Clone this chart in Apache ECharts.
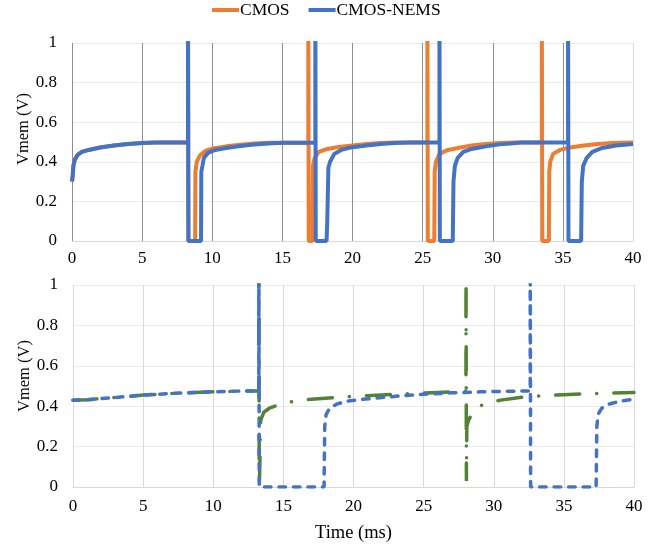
<!DOCTYPE html>
<html lang="en">
<head>
    <meta charset="UTF-8">
    <title>Vmem</title>
    <script src="https://cdn.jsdelivr.net/npm/echarts@6/dist/echarts.min.js"></script>
    <style>
        html, body {
            margin: 0;
            padding: 0;
            background: #fff;
        }

        #chart {
            width: 660px;
            height: 547px;
        }
    </style>
</head>
<body>
<div id="chart"></div>
<script>
    // top panel: CMOS vs CMOS-NEMS, [time ms, V]
    var cmosTop = [
        [0, 0.3], [0.05, 0.33], [0.1, 0.38], [0.2, 0.41], [0.4, 0.435], [0.7, 0.45], [1.2, 0.46], [2, 0.472],
        [3, 0.482], [4, 0.49], [5, 0.495], [6, 0.497], [8.27, 0.497], [8.27, 1.2], [8.3, 0], [8.78, 0],
        [8.8, 0.35], [8.9, 0.4], [9.1, 0.43], [9.5, 0.455], [10, 0.467], [11, 0.478], [12, 0.486], [13, 0.492],
        [14, 0.496], [16.85, 0.497], [16.85, 1.2], [16.88, 0], [17.15, 0], [17.18, 0.38], [17.3, 0.42],
        [17.6, 0.45], [18.2, 0.465], [19, 0.475], [20, 0.483], [21, 0.49], [22, 0.495], [23, 0.497],
        [25.34, 0.497], [25.34, 1.2], [25.37, 0], [25.83, 0], [25.86, 0.35], [25.95, 0.4], [26.2, 0.44],
        [26.8, 0.46], [27.7, 0.472], [28.5, 0.482], [29.5, 0.49], [30.5, 0.495], [31.5, 0.497], [33.5, 0.497],
        [33.5, 1.2], [33.53, 0], [34.0, 0], [34.03, 0.35], [34.1, 0.4], [34.3, 0.44], [34.8, 0.46],
        [35.5, 0.472], [36.5, 0.482], [37.5, 0.49], [38.5, 0.495], [40, 0.497]
    ];
    var nemsTop = [
        [0, 0.3], [0.05, 0.33], [0.1, 0.38], [0.2, 0.41], [0.4, 0.435], [0.7, 0.45], [1.2, 0.46], [2, 0.472],
        [3, 0.482], [4, 0.49], [5, 0.495], [6, 0.497], [8.27, 0.497], [8.27, 1.2], [8.3, 0], [9.2, 0],
        [9.22, 0.35], [9.3, 0.38], [9.4, 0.42], [9.7, 0.445], [10.2, 0.46], [11, 0.47], [12, 0.48], [13, 0.487],
        [14, 0.493], [15, 0.496], [17.35, 0.497], [17.35, 1.2], [17.38, 0], [18.15, 0], [18.2, 0.1],
        [18.28, 0.37], [18.4, 0.4], [18.7, 0.44], [19.2, 0.46], [20, 0.474], [21, 0.482], [22, 0.49],
        [23, 0.495], [24, 0.497], [26.2, 0.497], [26.2, 1.2], [26.23, 0], [27.15, 0], [27.2, 0.3],
        [27.3, 0.38], [27.5, 0.42], [27.9, 0.45], [28.5, 0.465], [29.5, 0.478], [30.5, 0.488], [31.5, 0.494],
        [32, 0.497], [35.37, 0.497], [35.37, 1.2], [35.4, 0], [36.3, 0], [36.35, 0.3], [36.45, 0.38],
        [36.7, 0.42], [37.1, 0.45], [37.8, 0.47], [38.8, 0.482], [40, 0.49]
    ];

    // bottom panel: dash-dot (green) and dashed (blue)
    var greenBottom = [
        [0, 0.43], [1, 0.432], [2, 0.438], [3, 0.443], [4, 0.449], [5, 0.455], [6, 0.459], [7, 0.463],
        [8, 0.466], [9, 0.469], [10, 0.471], [11, 0.473], [12, 0.475], [13.25, 0.476], [13.25, 1.2],
        [13.28, 0], [13.32, 0.1], [13.38, 0.33], [13.6, 0.37], [14, 0.39], [14.8, 0.41], [15.8, 0.425],
        [17, 0.435], [18.5, 0.442], [20, 0.449], [22, 0.456], [24, 0.462], [26, 0.468], [28.02, 0.474],
        [28.02, 1.2], [28.05, 0.03], [28.08, 0.3], [28.2, 0.33], [28.5, 0.37], [29, 0.4], [29.5, 0.415],
        [30.5, 0.43], [32, 0.444], [33.5, 0.452], [35, 0.457], [37, 0.462], [40, 0.468]
    ];
    var blueBottom = [
        [0, 0.43], [1, 0.432], [2, 0.438], [3, 0.443], [4, 0.449], [5, 0.455], [6, 0.459], [7, 0.463],
        [8, 0.466], [9, 0.469], [10, 0.471], [11, 0.473], [12, 0.475], [13.25, 0.476], [13.25, 1.2],
        [13.28, 0], [17.9, 0], [17.95, 0.3], [18.05, 0.36], [18.3, 0.39], [18.8, 0.41], [19.5, 0.425],
        [20.5, 0.433], [22, 0.443], [23.5, 0.452], [25, 0.459], [27, 0.466], [29, 0.471], [31, 0.474],
        [32.6, 0.476], [32.6, 1.2], [32.63, 0], [37.3, 0], [37.35, 0.3], [37.45, 0.36], [37.7, 0.39],
        [38.2, 0.41], [39, 0.425], [40, 0.435]
    ];
    var legendNames = ['CMOS', 'CMOS-NEMS'];

    var font = 'Liberation Serif';
    var dark = '#8f8f8f', light = '#d9d9d9';

    function xAxis(idx, vGrid, margin, withName) {
        return {
            type: 'value', gridIndex: idx, min: 0, max: 40, interval: 5,
            axisLine: {lineStyle: {color: light}},
            axisTick: {show: false},
            axisLabel: {color: '#000', fontFamily: font, fontSize: 17, margin: margin},
            splitLine: {lineStyle: {color: vGrid, width: 1}},
            name: withName ? 'Time (ms)' : '',
            nameLocation: 'middle', nameGap: 37,
            nameTextStyle: {color: '#000', fontFamily: font, fontSize: 18.5}
        };
    }

    function yAxis(idx, shift) {
        return {
            type: 'value', gridIndex: idx, min: 0, max: 1, interval: 0.2,
            axisLine: {show: false},
            axisTick: {show: false},
            axisLabel: {color: '#000', fontFamily: font, fontSize: 17, margin: 15},
            splitLine: {lineStyle: {color: '#ebebeb'}},
            name: 'Vmem (V)', nameLocation: 'middle', nameGap: 40, nameMoveOverlap: false,
            nameTextStyle: {color: '#000', fontFamily: font, fontSize: 16.5, padding: [0, 0, 0, shift]}
        };
    }

    var chart = echarts.init(document.getElementById('chart'));
    chart.setOption({
        animation: false,
        legend: {
            data: legendNames, left: 212, top: 1, padding: 0, icon: 'rect',
            itemWidth: 27, itemHeight: 4, itemGap: 19,
            textStyle: {color: '#000', fontFamily: font, fontSize: 17.5, padding: [0, 0, 0, -4]}
        },
        grid: [
            {left: 72, right: 27, top: 43, height: 198},
            {left: 73, right: 26, top: 285, height: 202}
        ],
        xAxis: [
            xAxis(0, [dark, dark, dark, dark, dark, dark, dark, dark, light], 9, false),
            xAxis(1, light, 11, true)
        ],
        yAxis: [yAxis(0, 26), yAxis(1, 20)],
        series: [
            {
                name: 'CMOS', type: 'line', data: cmosTop, symbol: 'none',
                color: '#ED7D31', lineStyle: {width: 4}
            },
            {
                name: 'CMOS-NEMS', type: 'line', data: nemsTop, symbol: 'none',
                color: '#4472C4', lineStyle: {width: 4}
            },
            {
                name: 'green', type: 'line', xAxisIndex: 1, yAxisIndex: 1, data: greenBottom, symbol: 'none',
                color: '#548235', lineStyle: {width: 3.5, type: [24, 17, 0.1, 17], cap: 'round'}
            },
            {
                name: 'blue', type: 'line', xAxisIndex: 1, yAxisIndex: 1, data: blueBottom, symbol: 'none',
                color: '#4472C4', lineStyle: {width: 3.5, type: [6.5, 8], cap: 'round'}
            }
        ]
    });
</script>
</body>
</html>
